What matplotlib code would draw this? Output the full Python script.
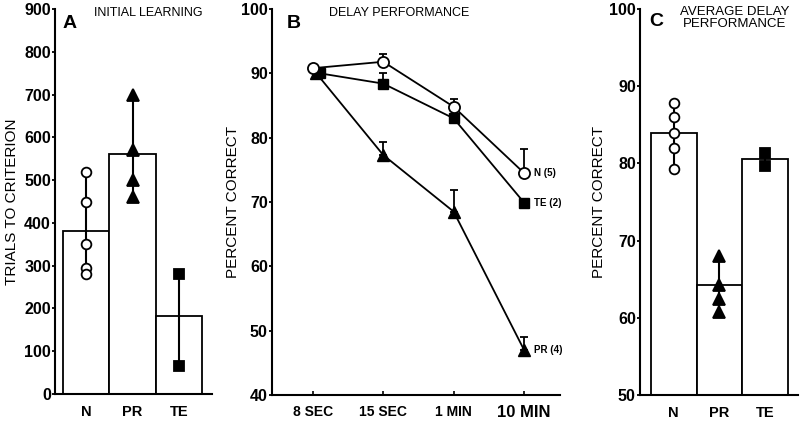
import numpy as np
import matplotlib
matplotlib.use("Agg")
import matplotlib.pyplot as plt

plt.rcParams['font.family'] = ['Liberation Sans', 'DejaVu Sans']

groups = ['N', 'PR', 'TE']
markers = {'N': 'o', 'PR': '^', 'TE': 's'}
faces = {'N': 'white', 'PR': 'black', 'TE': 'black'}

# panel A: trials to criterion
trials_mean = [380, 560, 182]
trials_pts = {'N': [520, 450, 350, 295, 280],
              'PR': [700, 570, 500, 460],
              'TE': [280, 65]}

# panel B: delay performance
delays = ['8 SEC', '15 SEC', '1 MIN', '10 MIN']
delay_n = [90.8, 91.8, 84.8, 74.5]
delay_n_err = [0, 1.2, 1.2, 3.7]
delay_te = [90.0, 88.4, 83.0, 69.9]
delay_te_err = [0, 1.6, 0, 0]
delay_pr = [90.0, 77.3, 68.5, 47.0]
delay_pr_err = [0, 2.0, 3.3, 2.0]

# panel C: average delay performance
avg_mean = [84.0, 64.2, 80.6]
avg_pts = {'N': [87.8, 86.0, 84.0, 82.0, 79.3],
           'PR': [68.0, 64.2, 62.5, 60.8],
           'TE': [81.3, 79.6]}

W, H = 800, 421
fig = plt.figure(figsize=(8, 4.21), dpi=100)


def px_axes(l, r, t, b):
    return fig.add_axes([l / W, 1 - b / H, (r - l) / W, (b - t) / H])


def style(ax):
    for s in ['top', 'right']:
        ax.spines[s].set_visible(False)
    for s in ['left', 'bottom']:
        ax.spines[s].set_linewidth(1.5)
    ax.tick_params(axis='y', length=2.5, width=1.3, labelsize=11.5, pad=0.5)
    for lab in ax.get_yticklabels():
        lab.set_fontweight('semibold')


def bar_panel(ax, means, pts, ms):
    x = np.arange(len(groups))
    ax.bar(x, means, width=1.0, color='white', edgecolor='black', linewidth=1.3, zorder=1)
    for i, g in enumerate(groups):
        v = pts[g]
        ax.vlines(i, min(v), max(v), color='black', lw=1.5, zorder=2)
        ax.plot([i] * len(v), v, linestyle='none', marker=markers[g], ms=ms[g],
                mfc=faces[g], mec='black', mew=1.3, zorder=3)
    ax.set_xticks(x)
    ax.set_xticklabels(groups, fontsize=10.5, fontweight='semibold')
    ax.tick_params(axis='x', length=0, pad=8)


# ---- A
axA = px_axes(55, 212, 9, 394)
bar_panel(axA, trials_mean, trials_pts, {'N': 7, 'PR': 8, 'TE': 6.5})
axA.set_xlim(-0.67, 2.71)
axA.set_ylim(0, 900)
axA.set_yticks(range(0, 901, 100))
style(axA)
axA.set_ylabel('TRIALS TO CRITERION', fontsize=11, labelpad=4)
axA.text(0.05, 0.985, 'A', transform=axA.transAxes, fontsize=14, fontweight='bold', va='top')
axA.text(0.25, 1.005, 'INITIAL LEARNING', transform=axA.transAxes, fontsize=9, va='top')

# ---- B
axB = px_axes(272, 560, 9, 395)
xb = np.arange(len(delays))
xo = xb + np.array([0.1, 0, 0, 0])
axB.errorbar(xb, delay_n, yerr=[np.zeros(4), delay_n_err], color='black', lw=1.3,
             capsize=3, capthick=1.3, elinewidth=1.3, marker='o', ms=8, mfc='white',
             mec='black', mew=1.3, zorder=4)
axB.errorbar(xo, delay_te, yerr=[np.zeros(4), delay_te_err], color='black', lw=1.3,
             capsize=3, capthick=1.3, elinewidth=1.3, marker='s', ms=7, mfc='black',
             mec='black', zorder=3)
axB.errorbar(xo - np.array([0.05, 0, 0, 0]), delay_pr, yerr=[np.zeros(4), delay_pr_err],
             color='black', lw=1.3, capsize=3, capthick=1.3, elinewidth=1.3, marker='^',
             ms=8, mfc='black', mec='black', zorder=3)
axB.text(3.14, delay_n[-1], 'N (5)', fontsize=7, va='center', fontweight='semibold')
axB.text(3.14, delay_te[-1], 'TE (2)', fontsize=7, va='center', fontweight='semibold')
axB.text(3.14, delay_pr[-1], 'PR (4)', fontsize=7, va='center', fontweight='semibold')
axB.set_xlim(-0.58, 3.51)
axB.set_ylim(40, 100)
axB.set_yticks(range(40, 101, 10))
axB.set_xticks(xb)
axB.set_xticklabels(delays, fontsize=10, fontweight='semibold')
axB.get_xticklabels()[-1].set_fontsize(12)
style(axB)
axB.tick_params(axis='x', direction='in', length=3, width=1.2, pad=7)
axB.set_ylabel('PERCENT CORRECT', fontsize=11, labelpad=1)
axB.text(0.05, 0.985, 'B', transform=axB.transAxes, fontsize=14, fontweight='bold', va='top')
axB.text(0.44, 1.005, 'DELAY PERFORMANCE', transform=axB.transAxes, fontsize=9, va='top', ha='center')

# ---- C
axC = px_axes(640, 798, 9, 395)
bar_panel(axC, avg_mean, avg_pts, {'N': 7, 'PR': 8, 'TE': 6.5})
axC.set_xlim(-0.74, 2.72)
axC.set_ylim(50, 100)
axC.set_yticks(range(50, 101, 10))
style(axC)
axC.set_ylabel('PERCENT CORRECT', fontsize=11, labelpad=2)
axC.text(0.06, 0.99, 'C', transform=axC.transAxes, fontsize=14, fontweight='bold', va='top')
axC.text(0.60, 1.008, 'AVERAGE DELAY\nPERFORMANCE', transform=axC.transAxes, fontsize=9.5,
         va='top', ha='center', linespacing=1.0)

fig.savefig('out.png', dpi=100)
